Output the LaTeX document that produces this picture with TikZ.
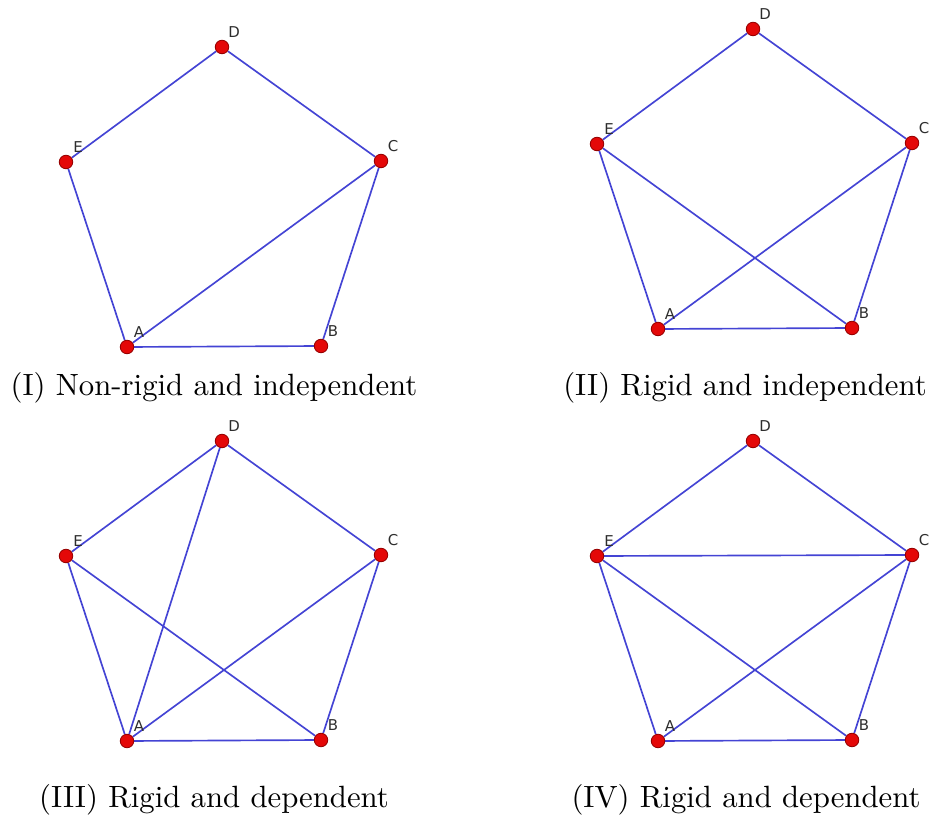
\documentclass[tikz,border=0pt]{standalone}
\usepackage{fontspec}
\newfontfamily\vtxfont{DejaVu Sans}
\usetikzlibrary{backgrounds}
\definecolor{edgeblue}{RGB}{68,68,212}
\definecolor{dotred}{RGB}{228,8,8}
\definecolor{dotrim}{RGB}{150,0,0}
\definecolor{labgray}{RGB}{45,45,45}

\begin{document}
\begin{tikzpicture}[x=0.02cm, y=-0.02cm,
  vtx/.style={circle, fill=dotred, draw=dotrim, line width=0.5pt, inner sep=0pt, minimum size=0.27cm},
  vlab/.style={font=\vtxfont\fontsize{8.5}{9}\selectfont, text=labgray, inner sep=0pt},
  edge/.style={draw=edgeblue, line width=0.95pt},
  captext/.style={transform shape, scale=1.75, anchor=base, inner sep=0pt}]
\useasboundingbox (0,0) rectangle (930,820);

% (I) non-rigid
\begin{scope}
  \foreach \n/\x/\y in {A/127/347, B/321/346, C/381/161, D/222/47, E/66/162} {
    \node[vtx] (1\n) at (\x,\y) {};
    \node[vlab] (l1\n) at (\x+12,\y-15) {\n};
  }
  \begin{scope}[on background layer]
    \foreach \u/\v in {E/D, D/C, C/B, B/A, A/E, A/C}
      \draw[edge] (1\u) -- (1\v);
  \end{scope}
\end{scope}

% (II)
\begin{scope}[shift={(531,-18)}]
  \foreach \n/\x/\y in {A/127/347, B/321/346, C/381/161, D/222/47, E/66/162} {
    \node[vtx] (2\n) at (\x,\y) {};
    \node[vlab] (l2\n) at (\x+12,\y-15) {\n};
  }
  \begin{scope}[on background layer]
    \foreach \u/\v in {E/D, D/C, C/B, B/A, A/E, A/C, E/B}
      \draw[edge] (2\u) -- (2\v);
  \end{scope}
\end{scope}

% (III)
\begin{scope}[shift={(0,394)}]
  \foreach \n/\x/\y in {A/127/347, B/321/346, C/381/161, D/222/47, E/66/162} {
    \node[vtx] (3\n) at (\x,\y) {};
    \node[vlab] (l3\n) at (\x+12,\y-15) {\n};
  }
  \begin{scope}[on background layer]
    \foreach \u/\v in {E/D, D/C, C/B, B/A, A/E, A/C, E/B, A/D}
      \draw[edge] (3\u) -- (3\v);
  \end{scope}
\end{scope}

% (IV)
\begin{scope}[shift={(531,394)}]
  \foreach \n/\x/\y in {A/127/347, B/321/346, C/381/161, D/222/47, E/66/162} {
    \node[vtx] (4\n) at (\x,\y) {};
    \node[vlab] (l4\n) at (\x+12,\y-15) {\n};
  }
  \begin{scope}[on background layer]
    \foreach \u/\v in {E/D, D/C, C/B, B/A, A/E, A/C, E/B, E/C}
      \draw[edge] (4\u) -- (4\v);
  \end{scope}
\end{scope}

% captions
\node[captext] (cap1) at (214,396) {(I) Non-rigid and independent};
\node[captext] (cap2) at (745,396) {(II) Rigid and independent};
\node[captext] (cap3) at (214,807) {(III) Rigid and dependent};
\node[captext] (cap4) at (746,807) {(IV) Rigid and dependent};
\end{tikzpicture}
\end{document}
